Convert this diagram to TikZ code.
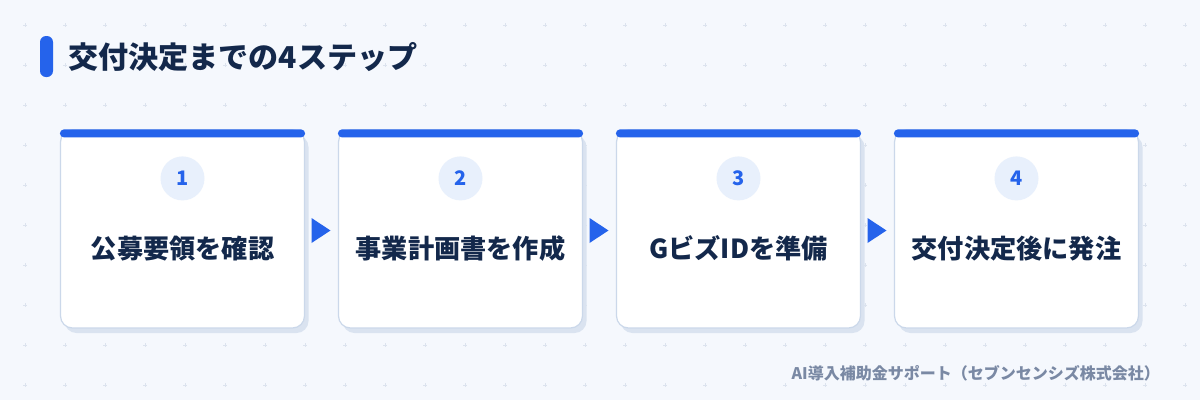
\documentclass[tikz,border=0pt]{standalone}
\usepackage{fontspec}
\newfontfamily\jp{Noto Sans CJK JP}
\usetikzlibrary{calc}
\definecolor{bg}{HTML}{F5F8FD}
\definecolor{gridc}{HTML}{DCE3EE}
\definecolor{accent}{HTML}{2563EB}
\definecolor{navy}{HTML}{13284B}
\definecolor{cardline}{HTML}{CBD8EA}
\definecolor{shadowc}{HTML}{DAE3F0}
\definecolor{circc}{HTML}{E8F0FC}
\definecolor{footc}{HTML}{7A89A4}
\tikzset{
  card/.style={draw=cardline, line width=1.2pt, fill=white, rounded corners=12pt, minimum width=244pt, minimum height=198pt, inner sep=0pt},
  cardshadow/.style={fill=shadowc, rounded corners=12pt, minimum width=244pt, minimum height=198pt, inner sep=0pt},
  topbar/.style={fill=accent, rounded corners=4pt},
  numcirc/.style={circle, fill=circc, minimum size=44pt, inner sep=0pt, text=accent, font=\jp\bfseries\fontsize{20}{24}\selectfont},
  steptext/.style={text=navy, inner sep=0pt, font=\jp\bfseries\fontsize{26.2}{31}\selectfont},
  arrowtri/.style={fill=accent},
  plusmark/.style={draw=gridc, line width=0.8pt}
}
\begin{document}
\begin{tikzpicture}[x=1pt,y=-1pt]
\useasboundingbox (0,0) rectangle (1200,400);
\fill[bg] (0,0) rectangle (1200,400);
% background plus marks
\foreach \i in {0,...,29}{
  \foreach \j in {0,...,9}{
    \draw[plusmark] ({25+40*\i-2},{25+40*\j}) -- ++(4,0) ({25+40*\i},{25+40*\j-2}) -- ++(0,4);
  }
}
% title
\fill[accent, rounded corners=6pt] (40,36) rectangle (53,77);
\node[anchor=west, inner sep=0pt, text=navy, font=\jp\bfseries\fontsize{30.1}{35}\selectfont] (title) at (68,57) {交付決定までの4ステップ};
% cards
\foreach \k/\n/\t in {0/1/公募要領を確認, 1/2/事業計画書を作成, 2/3/Gビズ{I}Dを準備, 3/4/交付決定後に発注}{
  \node[cardshadow] (s\n) at ({182.5+278*\k+4},{229+5}) {};
  \node[card] (c\n) at ({182.5+278*\k},229) {};
  \fill[topbar] ($(c\n.north west)+(0,0)$) rectangle ($(c\n.north east)+(0,8)$);
  \node[numcirc] (n\n) at ($(c\n.north)+(0,49)$) {\n};
  \node[steptext] (t\n) at ($(c\n.north)+(0,119)$) {\t};
}
% arrows
\foreach \a/\b in {1/2,2/3,3/4}{
  \coordinate (m\a) at ($(c\a.east)!0.5!(c\b.west)+(0,1.5)$);
  \fill[arrowtri] ($(m\a)+(-10,-12.5)$) -- ($(m\a)+(9,0)$) -- ($(m\a)+(-10,12.5)$) -- cycle;
}
% footer
\node[anchor=east, inner sep=0pt, text=footc, font=\jp\bfseries\fontsize{16}{19}\selectfont] (foot) at (1160,373) {AI導入補助金サポート（セブンセンシズ株式会社）};
\end{tikzpicture}
\end{document}
